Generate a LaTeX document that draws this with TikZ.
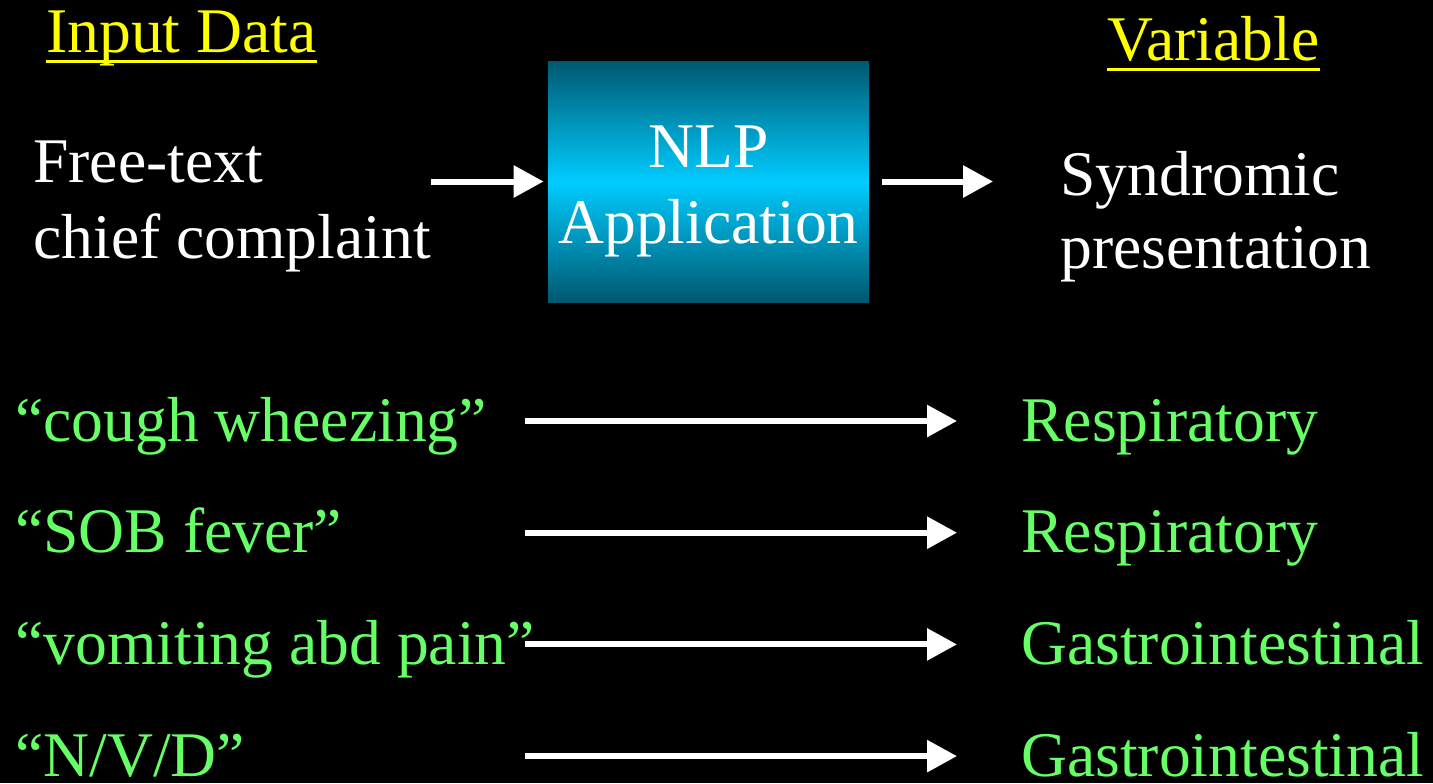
\documentclass[tikz,border=0pt]{standalone}
\usepackage{fontspec}
\setmainfont{Liberation Serif}
\usetikzlibrary{arrows.meta}
\definecolor{titleyellow}{RGB}{255,255,0}
\definecolor{casegreen}{RGB}{102,255,102}
\definecolor{nlpdark}{RGB}{0,88,112}
\definecolor{nlpbright}{RGB}{0,204,255}
\tikzset{
  txt/.style={inner sep=0pt, anchor=base west, font=\fontsize{31.8}{38}\selectfont},
  title/.style={txt, text=titleyellow},
  plain/.style={txt, text=white},
  case/.style={txt, text=casegreen},
  uline/.style={draw=titleyellow, line width=1.5pt},
  arr/.style={draw=white, line width=3pt, -{Triangle[length=15pt,width=15.5pt]}},
  nlpbox/.style={inner sep=0pt, minimum width=160.5pt, minimum height=120.5pt,
    top color=nlpdark, bottom color=nlpdark, middle color=nlpbright}
}
\begin{document}
\begin{tikzpicture}[x=0.5pt,y=-0.5pt]
  % black slide background
  \fill[black] (0,0) rectangle (1433,783);
  \useasboundingbox (0,0) rectangle (1433,783);

  % column headings
  \node[title] (input) at (46,52) {Input Data};
  \node[title] (variable) at (1107,60) {Variable};
  \draw[uline] ([yshift=-4.5pt]input.base west) -- ([yshift=-4.5pt]input.base east);
  \draw[uline] ([yshift=-4.5pt]variable.base west) -- ([yshift=-4.5pt]variable.base east);

  % processing chain
  \node[nlpbox] (nlp) at (708.5,181.5) {};
  \node[plain, anchor=base] (nlp1) at (708.5,167) {NLP};
  \node[plain, anchor=base] (nlp2) at (708.5,243) {Application};

  \node[plain] (ft1) at (33,182) {Free-text};
  \node[plain] (ft2) at (33,258) {chief complaint};
  \node[plain] (sy1) at (1060,195) {Syndromic};
  \node[plain] (sy2) at (1060,268) {presentation};

  \draw[arr, shorten >=2pt] (ft2.east |- nlp.west) -- (nlp.west);
  \draw[arr, shorten <=6.5pt, shorten >=33.5pt] (nlp.east) -- (nlp.east -| sy1.west);

  % example complaints and their syndromes
  \foreach \i/\left/\right [count=\k from 0] in {
      1/{“cough wheezing”}/Respiratory,
      2/{“SOB fever”}/Respiratory,
      3/{“vomiting abd pain”}/Gastrointestinal,
      4/{“N/V/D”}/Gastrointestinal} {
    \pgfmathsetmacro{\yb}{441+111.7*\k}
    \node[case] (cc\i) at (15,\yb) {\left};
    \node[case] (sd\i) at (1021,\yb) {\right};
    \coordinate (st\i) at (525,\yb-20);
    \draw[arr, shorten >=32pt] (st\i) -- (st\i -| sd\i.west);
  }
\end{tikzpicture}
\end{document}
